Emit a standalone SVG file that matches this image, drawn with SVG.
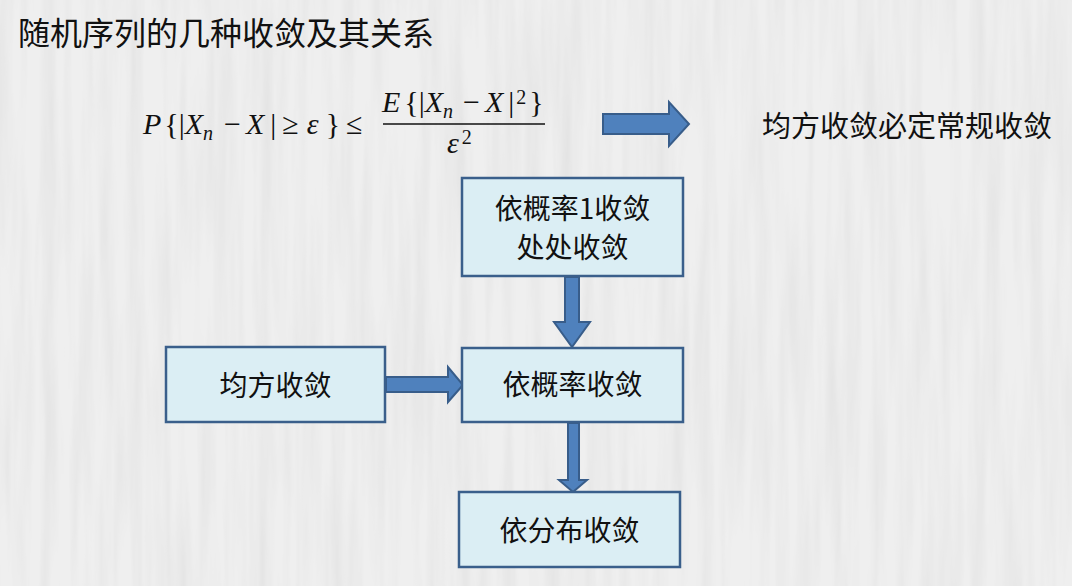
<svg xmlns="http://www.w3.org/2000/svg" width="1072" height="586" viewBox="0 0 1072 586">
  <style>
    .cjk { font-family: "Noto Sans CJK SC", "Noto Sans", sans-serif; fill: #111; }
    .box { fill: #dbeef4; stroke: #3a5f8b; stroke-width: 2.5; }
    .lbl { font-family: "Noto Sans CJK SC", sans-serif; font-size: 28px; fill: #111; text-anchor: middle; }
    .arr { fill: #4f81bd; stroke: #385d8a; stroke-width: 2; stroke-linejoin: miter; }
    .m { font-family: "Liberation Serif", "DejaVu Serif", serif; font-size: 30px; fill: #111; }
    .i { font-style: italic; }
    .s { font-size: 20px; }
  </style>
  <defs>
    <filter id="grain" x="0" y="0" width="100%" height="100%">
      <feTurbulence type="fractalNoise" baseFrequency="0.07 0.004" numOctaves="3" seed="4"/>
      <feColorMatrix type="matrix" values="0 0 0 0 0.6  0 0 0 0 0.6  0 0 0 0 0.6  0.55 0 0 0 -0.2"/>
    </filter>
  </defs>
  <rect width="1072" height="586" fill="#efefef"/>
  <rect width="1072" height="586" filter="url(#grain)"/>

  <text class="cjk" x="18" y="45" font-size="32">随机序列的几种收敛及其关系</text>

  <g id="formula">
    <text class="m" x="143" y="134"><tspan class="i">P</tspan><tspan dx="3">{</tspan><tspan>|</tspan><tspan class="i">X</tspan><tspan class="i s" y="140">n</tspan><tspan dx="11" y="134">−</tspan><tspan dx="5" class="i">X</tspan><tspan dx="6">|</tspan><tspan dx="6">≥</tspan><tspan dx="8" class="i">ε</tspan><tspan dx="7">}</tspan><tspan dx="6">≤</tspan></text>
    <text class="m" x="382" y="112"><tspan class="i">E</tspan><tspan dx="4">{</tspan><tspan>|</tspan><tspan class="i">X</tspan><tspan class="i s" y="118">n</tspan><tspan dx="10" y="112">−</tspan><tspan dx="5" class="i">X</tspan><tspan dx="5">|</tspan><tspan dx="2" class="s" y="104">2</tspan><tspan dx="3" y="112">}</tspan></text>
    <line x1="383" y1="124" x2="545" y2="124" stroke="#111" stroke-width="1.5"/>
    <text class="m" x="447" y="153"><tspan class="i">ε</tspan><tspan dx="3" class="s" y="144">2</tspan></text>
  </g>

  <text class="cjk" x="762" y="137" font-size="29">均方收敛必定常规收敛</text>

  <g id="connectors">
    <path class="arr" d="M603,114 H669 V102 L689,124 L669,146 V134 H603 Z"/>
    <path class="arr" d="M565,277 H579 V322 H590 L572,347 L554,322 H565 Z"/>
    <path class="arr" d="M386,377 H448 V367 L463,385 L448,402 V392 H386 Z"/>
    <path class="arr" d="M568,423 H579 V480 H587 L573,492 L559,480 H568 Z"/>
  </g>

  <g id="n1">
    <rect class="box" x="462" y="178" width="221" height="98"/>
    <text class="lbl" font-size="27"><tspan x="572.5" y="218.5">依概率1收敛</tspan><tspan x="572.5" y="258">处处收敛</tspan></text>
  </g>
  <g id="n2">
    <rect class="box" x="462" y="348" width="221" height="74"/>
    <text class="lbl" x="572.5" y="395">依概率收敛</text>
  </g>
  <g id="n3">
    <rect class="box" x="166" y="347" width="219" height="75"/>
    <text class="lbl" x="275.5" y="396">均方收敛</text>
  </g>
  <g id="n4">
    <rect class="box" x="459" y="492" width="221" height="75"/>
    <text class="lbl" x="569.5" y="541">依分布收敛</text>
  </g>
</svg>
